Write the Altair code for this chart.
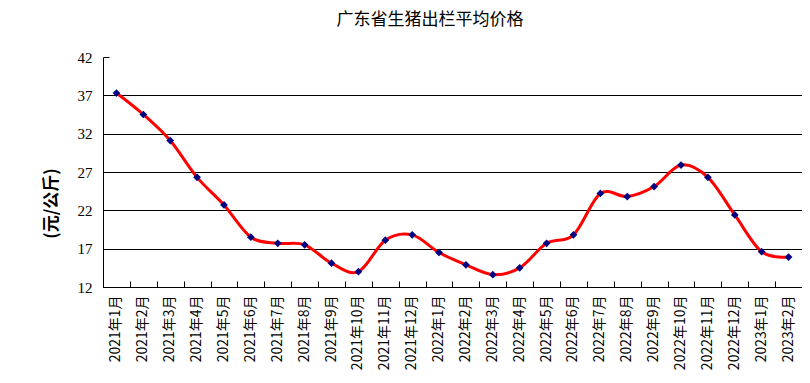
import altair as alt
import pandas as pd

title_text = ["广东省生猪出栏平均价格"]
months = [
    "2021年1月", "2021年2月", "2021年3月", "2021年4月", "2021年5月", "2021年6月",
    "2021年7月", "2021年8月", "2021年9月", "2021年10月", "2021年11月", "2021年12月",
    "2022年1月", "2022年2月", "2022年3月", "2022年4月", "2022年5月", "2022年6月",
    "2022年7月", "2022年8月", "2022年9月", "2022年10月", "2022年11月", "2022年12月",
    "2023年1月", "2023年2月",
]
prices = [
    37.3, 34.5, 31.1, 26.3, 22.7, 18.5,
    17.7, 17.5, 15.1, 14.0, 18.1, 18.8,
    16.5, 14.9, 13.6, 14.5, 17.7, 18.8,
    24.2, 23.8, 25.1, 27.9, 26.3, 21.4,
    16.6, 15.9,
]
y_ticks = [12, 17, 22, 27, 32, 37, 42]

df = pd.DataFrame({"month": months, "price": prices})
title_df = pd.DataFrame({"t": title_text})

FONT = "Noto Sans CJK SC"
W, H = 699, 230

x_scale = alt.Scale(type="band", paddingInner=0, paddingOuter=0)
y_scale = alt.Scale(domain=[12, 42], nice=False, zero=False)

main_x_axis = alt.Axis(
    title=None, labelAngle=-90, labelAlign="right", labelBaseline="middle",
    labelPadding=8, ticks=False, domainColor="black", domainWidth=1,
    labelFont=FONT, labelFontSize=14, labelColor="black", grid=False,
)
main_y_axis = alt.Axis(
    title="(元/公斤)", values=y_ticks, ticks=False, labelPadding=11,
    labelFont="Liberation Serif", labelFontSize=15, labelColor="black",
    domainColor="black", grid=True,
    gridColor={"condition": {"test": "datum.value == 42", "value": "transparent"}, "value": "black"},
    gridOpacity=1, gridWidth=1,
    titleFont=FONT, titleFontSize=17, titleFontWeight="bold", titleColor="black",
    titleAngle=-90, titleX=-52, titleY=146, titleAlign="center", titleBaseline="middle",
)

line = alt.Chart(df).mark_line(
    interpolate="cardinal", color="#FF0000", strokeWidth=3
).encode(
    x=alt.X("month:N", sort=None, scale=x_scale, axis=main_x_axis, bandPosition=0.5),
    y=alt.Y("price:Q", scale=y_scale, axis=main_y_axis),
)

points = alt.Chart(df).mark_point(
    shape="diamond", filled=True, color="#000080", size=60, opacity=1
).encode(
    x=alt.X("month:N", sort=None, scale=x_scale, axis=None, bandPosition=0.5),
    y=alt.Y("price:Q", scale=y_scale, axis=None),
)

ticks = alt.Chart(df).mark_point(opacity=0).encode(
    x=alt.X("month:N", sort=None, scale=x_scale, bandPosition=0.5,
            axis=alt.Axis(orient="top", offset=-H, labels=False, domain=False,
                          grid=False, title=None, tickBand="extent",
                          tickSize=6, tickColor="black")),
    y=alt.Y("price:Q", scale=y_scale,
            axis=alt.Axis(orient="right", offset=-W, labels=False, domain=False,
                          grid=False, title=None, values=y_ticks,
                          tickSize=6, tickColor="black")),
)

title = alt.Chart(title_df).mark_text(
    font=FONT, fontSize=17, color="black", align="center", baseline="middle"
).encode(
    text="t:N", x=alt.value(327), y=alt.value(-37),
)

chart = alt.layer(ticks, line, points, title).resolve_axis(
    x="independent", y="independent"
).properties(
    width=W, height=H,
    autosize=alt.AutoSizeParams(type="none"),
    padding={"left": 95, "top": 49, "right": 0, "bottom": 84},
    background="white",
).configure_view(stroke=None)

chart.save("out.html", embed_options={"renderer": "svg", "actions": False})
